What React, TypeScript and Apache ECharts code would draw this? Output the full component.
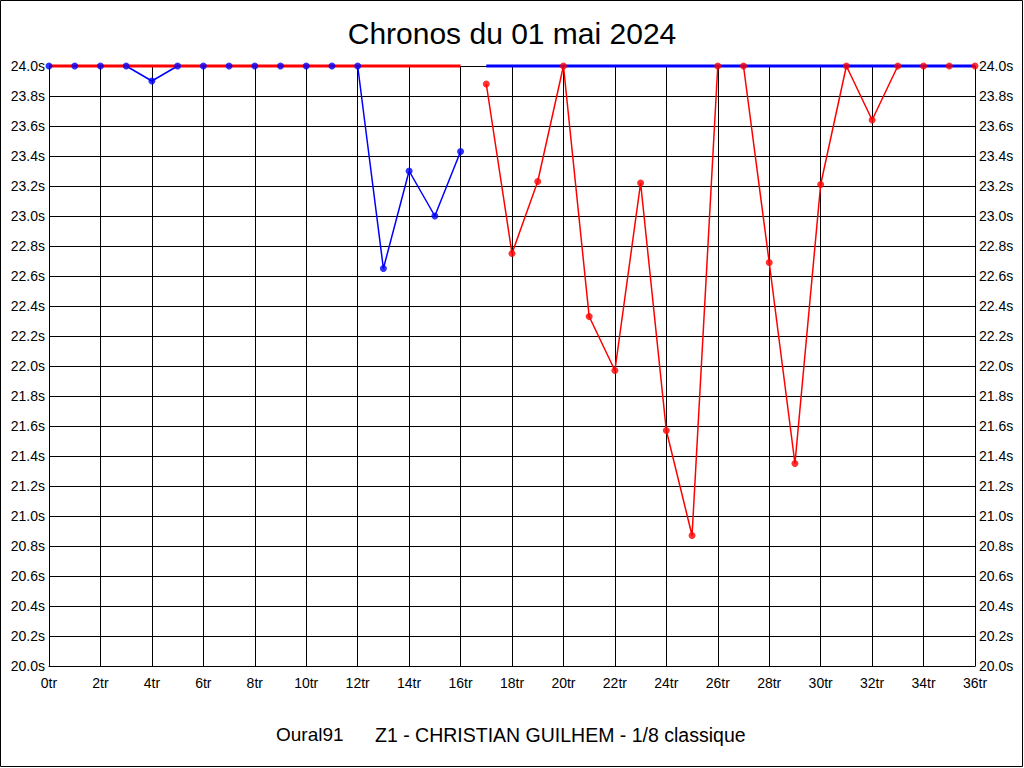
import React, { useEffect, useRef } from "react";
import * as echarts from "echarts";

const blueLaps = [0, 1, 2, 3, 4, 5, 6, 7, 8, 9, 10, 11, 12, 13, 14, 15, 16];
const blueValues = [24.0, 24.0, 24.0, 24.0, 23.9, 24.0, 24.0, 24.0, 24.0, 24.0, 24.0, 24.0, 24.0, 22.65, 23.3, 23.0, 23.43];
const redLaps = [17, 18, 19, 20, 21, 22, 23, 24, 25, 26, 27, 28, 29, 30, 31, 32, 33, 34, 35, 36];
const redValues = [23.88, 22.75, 23.23, 24.0, 22.33, 21.97, 23.22, 21.57, 20.87, 24.0, 24.0, 22.69, 21.35, 23.21, 24.0, 23.64, 24.0, 24.0, 24.0, 24.0];
// laps where a series is off the top of the scale (drawn clipped at the 24.0s limit)
const redTopLaps = [0, 16];
const blueTopLaps = [17, 36];
const yMin = 20;
const yMax = 24;

const FONT = "'Liberation Sans', Arial, sans-serif";

export default function App() {
  const ref = useRef<HTMLDivElement>(null);
  useEffect(() => {
    document.body.style.margin = "0";
    const chart = echarts.init(ref.current!, null, { renderer: "svg" });
    const blueData = blueLaps.map((l, i) => [l, blueValues[i]]);
    const redData = redLaps.map((l, i) => [l, redValues[i]]);
    const yAxisBase = {
      type: "value",
      min: yMin,
      max: yMax,
      interval: 0.2,
      axisLine: { show: true, lineStyle: { color: "#000", width: 1 } },
      axisTick: { show: false },
      splitLine: { show: true, lineStyle: { color: "#000", width: 1 } },
      axisLabel: {
        color: "#000",
        fontFamily: FONT,
        fontSize: 14,
        margin: 4,
        formatter: (v: number) => v.toFixed(1) + "s",
      },
    };
    chart.setOption({
      animation: false,
      backgroundColor: "#fff",
      title: {
        text: "Chronos du 01 mai 2024",
        left: "center",
        top: 13,
        textStyle: { fontFamily: FONT, fontSize: 30, fontWeight: "normal", color: "#000" },
      },
      grid: { left: 49, right: 49, top: 66, bottom: 102, show: false },
      xAxis: {
        type: "value",
        min: 0,
        max: 36,
        interval: 2,
        axisLine: { show: true, lineStyle: { color: "#000", width: 1 } },
        axisTick: { show: false },
        splitLine: { show: true, lineStyle: { color: "#000", width: 1 } },
        axisLabel: {
          color: "#000",
          fontFamily: FONT,
          fontSize: 14,
          margin: 10,
          formatter: (v: number) => v + "tr",
        },
      },
      yAxis: [
        { ...yAxisBase, position: "left" },
        { ...yAxisBase, position: "right", splitLine: { show: false } },
      ],
      graphic: [
        {
          type: "rect",
          shape: { x: 0.5, y: 0.5, width: 1022, height: 766 },
          style: { fill: "none", stroke: "#000", lineWidth: 1 },
          silent: true,
          z: 100,
        },
        {
          type: "text",
          x: 276,
          y: 725,
          style: { text: "Oural91", fontFamily: FONT, fontSize: 19, fill: "#000" },
        },
        {
          type: "text",
          x: 375,
          y: 725,
          style: { text: "Z1 - CHRISTIAN GUILHEM - 1/8 classique", fontFamily: FONT, fontSize: 19.5, fill: "#000" },
        },
      ],
      series: [
        {
          type: "line",
          data: blueData,
          showSymbol: false,
          symbol: "none",
          clip: false,
          lineStyle: { color: "#0000ff", width: 1.5 },
          z: 2,
        },
        {
          type: "line",
          data: redData,
          showSymbol: false,
          symbol: "none",
          clip: false,
          lineStyle: { color: "#ff0000", width: 1.5 },
          z: 2,
        },
        {
          type: "line",
          data: redTopLaps.map((l) => [l, yMax]),
          symbol: "none",
          clip: false,
          lineStyle: { color: "#ff0000", width: 3 },
          z: 3,
        },
        {
          type: "line",
          data: blueTopLaps.map((l) => [l, yMax]),
          symbol: "none",
          clip: false,
          lineStyle: { color: "#0000ff", width: 3 },
          z: 3,
        },
        {
          type: "scatter",
          data: blueData,
          symbol: "circle",
          symbolSize: 7,
          clip: false,
          itemStyle: { color: "#0000ff" },
          z: 4,
        },
        {
          type: "scatter",
          data: redData,
          symbol: "circle",
          symbolSize: 7,
          clip: false,
          itemStyle: { color: "#ff0000" },
          z: 4,
        },
      ],
    });
    return () => chart.dispose();
  }, []);
  return <div ref={ref} style={{ width: 1024, height: 768 }} />;
}
